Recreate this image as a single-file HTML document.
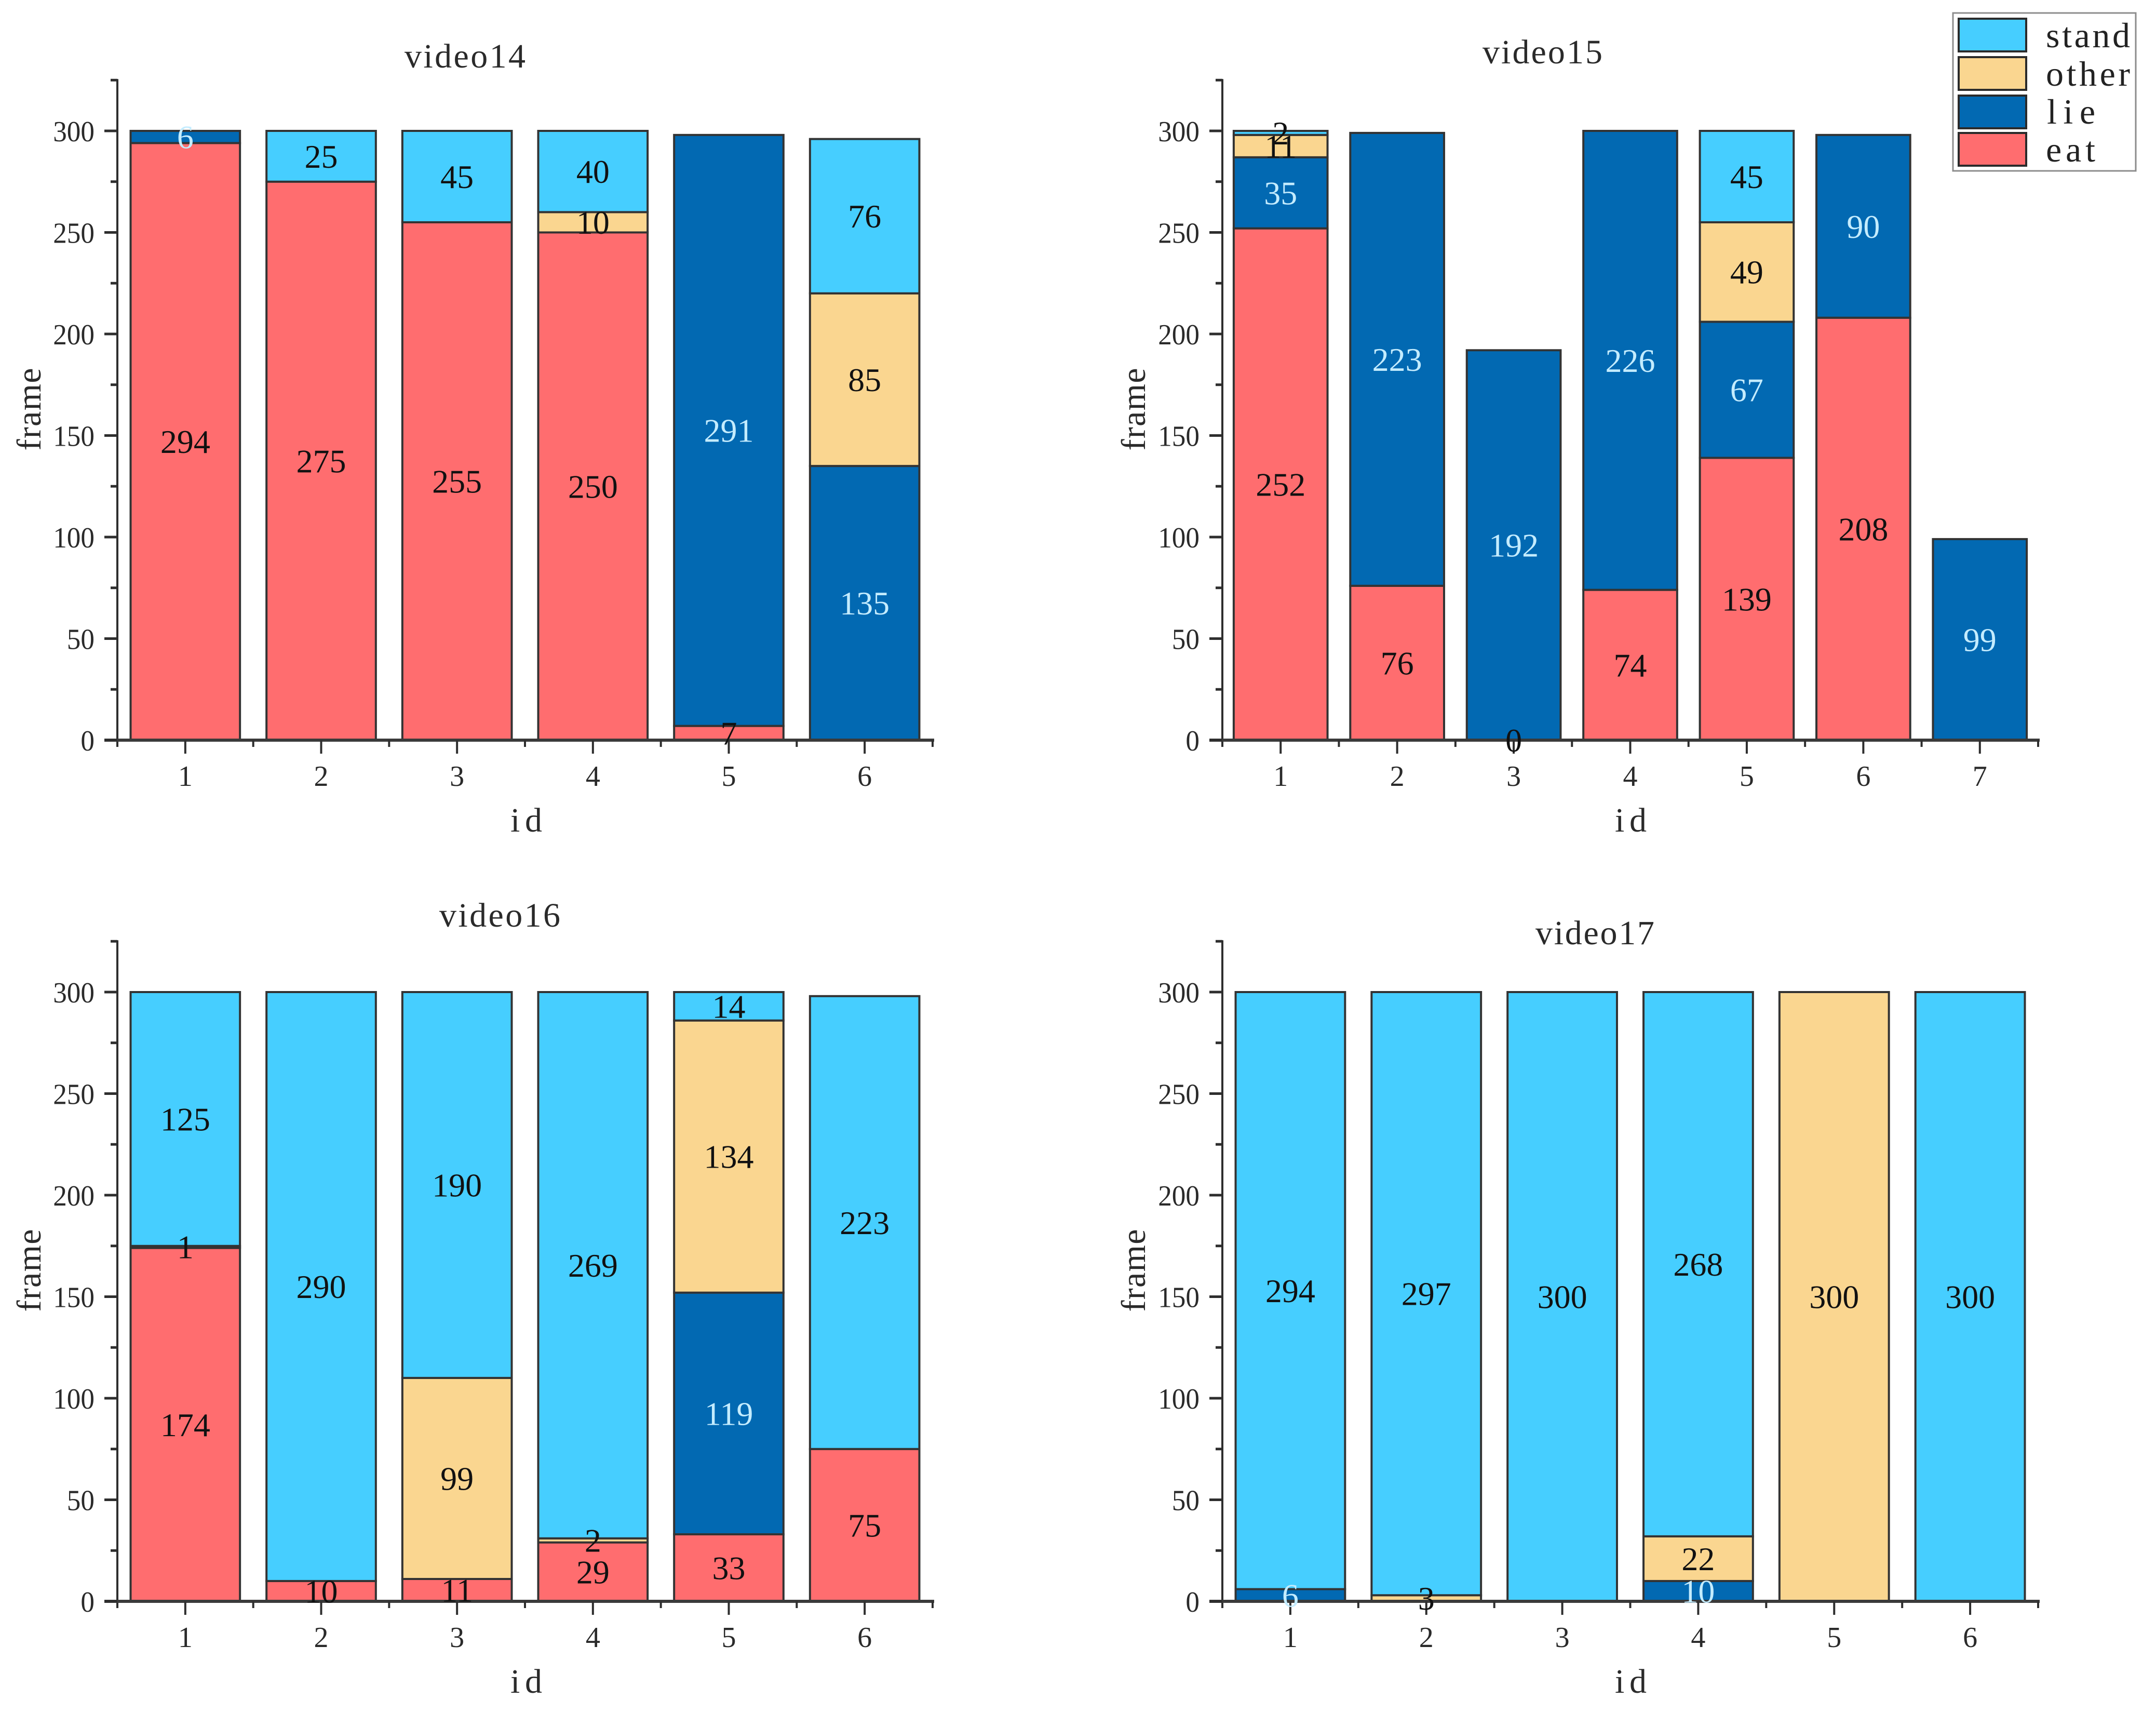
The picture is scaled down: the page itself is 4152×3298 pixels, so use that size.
<!DOCTYPE html>
<html lang="en">
<head>
<meta charset="utf-8">
<title>Stacked frame counts per id</title>
<style>
html,body{margin:0;padding:0;background:#fff;}
svg{display:block;}
text{font-family:"Liberation Serif","Noto Serif CJK SC",serif;}
</style>
</head>
<body>
<svg id="root" xmlns="http://www.w3.org/2000/svg" width="4152" height="3298" viewBox="0 0 4152 3298">
  <rect x="0" y="0" width="4152" height="3298" fill="#ffffff"/>
  <g id="charts"></g>
  <g>
    <rect x="3761" y="25" width="352" height="304" fill="#ffffff" stroke="#8c8c8c" stroke-width="3"/>
    <g>
      <rect x="3772" y="36" width="130" height="63" fill="#46CEFF" stroke="#2b2b2b" stroke-width="4"/>
      <text x="3940" y="91" font-size="68" textLength="162" fill="#222">stand</text>
    </g>
    <g>
      <rect x="3772" y="110" width="130" height="63" fill="#FAD690" stroke="#2b2b2b" stroke-width="4"/>
      <text x="3940" y="165" font-size="68" textLength="162" fill="#222">other</text>
    </g>
    <g>
      <rect x="3772" y="184" width="130" height="63" fill="#0269B2" stroke="#2b2b2b" stroke-width="4"/>
      <text x="3942" y="238" font-size="68" textLength="93" fill="#222">lie</text>
    </g>
    <g>
      <rect x="3772" y="256" width="130" height="63" fill="#FF6D6F" stroke="#2b2b2b" stroke-width="4"/>
      <text x="3940" y="311" font-size="68" textLength="95" fill="#222">eat</text>
    </g>
  </g>
</svg>
<script>
// Value axis ticks shared by all panels
const yMajorTicks = [0, 50, 100, 150, 200, 250, 300];
const yMinorTicks = [25, 75, 125, 175, 225, 275, 325];
const yMax = 325;

// Series order, bottom to top
const seriesNames = ['eat', 'lie', 'other', 'stand'];

// video14
const video14Ids = [1, 2, 3, 4, 5, 6];
const video14Eat = [294, 275, 255, 250, 7, null];
const video14Lie = [6, null, null, null, 291, 135];
const video14Other = [null, null, null, 10, null, 85];
const video14Stand = [null, 25, 45, 40, null, 76];

// video15
const video15Ids = [1, 2, 3, 4, 5, 6, 7];
const video15Eat = [252, 76, 0, 74, 139, 208, null];
const video15Lie = [35, 223, 192, 226, 67, 90, 99];
const video15Other = [11, null, null, null, 49, null, null];
const video15Stand = [2, null, null, null, 45, null, null];

// video16
const video16Ids = [1, 2, 3, 4, 5, 6];
const video16Eat = [174, 10, 11, 29, 33, 75];
const video16Lie = [1, null, null, null, 119, null];
const video16Other = [null, null, 99, 2, 134, null];
const video16Stand = [125, 290, 190, 269, 14, 223];

// video17
const video17Ids = [1, 2, 3, 4, 5, 6];
const video17Eat = [null, null, null, null, null, null];
const video17Lie = [6, null, null, 10, null, null];
const video17Other = [null, 3, null, 22, 300, null];
const video17Stand = [294, 297, 300, 268, null, 300];

const seriesFill = {eat:'#FF6D6F', lie:'#0269B2', other:'#FAD690', stand:'#46CEFF'};
const seriesText = {eat:'#111111', lie:'#c4ecff', other:'#111111', stand:'#111111'};

const panels = [
  {title:'video14', ids:video14Ids, eat:video14Eat, lie:video14Lie, other:video14Other, stand:video14Stand,
   left:226, right:1796, base:1425, titleX:779, titleW:233, titleY:130, xTitleX:983, frameX:78, darkLie:false},
  {title:'video15', ids:video15Ids, eat:video15Eat, lie:video15Lie, other:video15Other, stand:video15Stand,
   left:2354, right:3925, base:1425, titleX:2855, titleW:231, titleY:122, xTitleX:3110, frameX:2205, darkLie:false},
  {title:'video16', ids:video16Ids, eat:video16Eat, lie:video16Lie, other:video16Other, stand:video16Stand,
   left:226, right:1796, base:3083, titleX:846, titleW:233, titleY:1784, xTitleX:983, frameX:78, darkLie:true},
  {title:'video17', ids:video17Ids, eat:video17Eat, lie:video17Lie, other:video17Other, stand:video17Stand,
   left:2354, right:3925, base:3083, titleX:2957, titleW:229, titleY:1818, xTitleX:3110, frameX:2205, darkLie:false}
];

const NS = 'http://www.w3.org/2000/svg';
const unitPx = 3.91;
const axisColor = '#2e2e2e';
const barStroke = '#333333';
const chartsRoot = document.getElementById('charts');

panels.forEach(function (p) {
  const group = document.createElementNS(NS, 'g');
  
  
  chartsRoot.appendChild(group);

  const yScale = function (v) { return p.base - v * unitPx; };
  const step = (p.right - p.left) / p.ids.length;
  const xScale = function (i) { return p.left + step * (i + 0.5); };
  const barW = step * 0.805;

  // stacked bars
  p.ids.forEach(function (id, i) {
    let cum = 0;
    seriesNames.forEach(function (s) {
      const v = p[s][i];
      if (v === null || v === 0) return;
      const r = document.createElementNS(NS, 'rect');
      
      
      r.setAttribute('x', xScale(i) - barW / 2);
      r.setAttribute('y', yScale(cum + v));
      r.setAttribute('width', barW);
      r.setAttribute('height', v * unitPx);
      r.setAttribute('fill', seriesFill[s]);
      r.setAttribute('stroke', barStroke);
      r.setAttribute('stroke-width', '4');
      group.appendChild(r);
      cum += v;
    });
  });

  // y axis line
  const yLine = document.createElementNS(NS, 'line');
  
  
  yLine.setAttribute('x1', p.left);
  yLine.setAttribute('x2', p.left);
  yLine.setAttribute('y1', yScale(yMax) - 2);
  yLine.setAttribute('y2', p.base + 13);
  yLine.setAttribute('stroke', axisColor);
  yLine.setAttribute('stroke-width', '4');
  group.appendChild(yLine);

  // x axis line
  const xLine = document.createElementNS(NS, 'line');
  
  
  xLine.setAttribute('x1', p.left - 25);
  xLine.setAttribute('x2', p.right + 3);
  xLine.setAttribute('y1', p.base);
  xLine.setAttribute('y2', p.base);
  xLine.setAttribute('stroke', '#3a3a3a');
  xLine.setAttribute('stroke-width', '6');
  group.appendChild(xLine);

  // y ticks and labels
  yMajorTicks.forEach(function (v) {
    const t = document.createElementNS(NS, 'line');
    
    
    t.setAttribute('x1', p.left - 25);
    t.setAttribute('x2', p.left);
    t.setAttribute('y1', yScale(v));
    t.setAttribute('y2', yScale(v));
    t.setAttribute('stroke', axisColor);
    t.setAttribute('stroke-width', '5');
    group.appendChild(t);
    const l = document.createElementNS(NS, 'text');
    
    
    const label = String(v);
    l.setAttribute('x', p.left - 44 - label.length * 26.6);
    l.setAttribute('y', yScale(v) + 20);
    l.setAttribute('font-size', '56');
    l.setAttribute('fill', '#2a2a2a');
    l.setAttribute('textLength', label.length * 26.6);
    l.setAttribute('lengthAdjust', 'spacingAndGlyphs');
    l.textContent = label;
    group.appendChild(l);
  });
  yMinorTicks.forEach(function (v) {
    const t = document.createElementNS(NS, 'line');
    
    
    t.setAttribute('x1', p.left - 13);
    t.setAttribute('x2', p.left);
    t.setAttribute('y1', yScale(v));
    t.setAttribute('y2', yScale(v));
    t.setAttribute('stroke', axisColor);
    t.setAttribute('stroke-width', '5');
    group.appendChild(t);
  });

  // x ticks and labels
  p.ids.forEach(function (id, i) {
    const t = document.createElementNS(NS, 'line');
    
    
    t.setAttribute('x1', xScale(i));
    t.setAttribute('x2', xScale(i));
    t.setAttribute('y1', p.base);
    t.setAttribute('y2', p.base + 26);
    t.setAttribute('stroke', axisColor);
    t.setAttribute('stroke-width', '4');
    group.appendChild(t);
    const m = document.createElementNS(NS, 'line');
    
    
    m.setAttribute('x1', xScale(i) + step / 2);
    m.setAttribute('x2', xScale(i) + step / 2);
    m.setAttribute('y1', p.base);
    m.setAttribute('y2', p.base + 13);
    m.setAttribute('stroke', axisColor);
    m.setAttribute('stroke-width', '4');
    group.appendChild(m);
    const l = document.createElementNS(NS, 'text');
    
    
    l.setAttribute('x', xScale(i));
    l.setAttribute('y', p.base + 88);
    l.setAttribute('font-size', '56');
    l.setAttribute('text-anchor', 'middle');
    l.setAttribute('fill', '#2a2a2a');
    l.textContent = String(id);
    group.appendChild(l);
  });

  // value labels, centred in their segments
  p.ids.forEach(function (id, i) {
    let cum = 0;
    seriesNames.forEach(function (s) {
      const v = p[s][i];
      if (v === null) return;
      const l = document.createElementNS(NS, 'text');
      
      
      l.setAttribute('x', xScale(i));
      l.setAttribute('y', yScale(cum + v / 2) + 22);
      l.setAttribute('font-size', '64');
      l.setAttribute('text-anchor', 'middle');
      l.setAttribute('fill', (s === 'lie' && p.darkLie && v < 10) ? '#111111' : seriesText[s]);
      l.textContent = String(v);
      group.appendChild(l);
      cum += v;
    });
  });

  // panel title
  const title = document.createElementNS(NS, 'text');
  
  
  title.setAttribute('x', p.titleX);
  title.setAttribute('y', p.titleY);
  title.setAttribute('font-size', '66');
  title.setAttribute('textLength', p.titleW);
  title.setAttribute('fill', '#2a2a2a');
  title.textContent = p.title;
  group.appendChild(title);

  // x axis title
  const xTitle = document.createElementNS(NS, 'text');
  
  
  xTitle.setAttribute('x', p.xTitleX);
  xTitle.setAttribute('y', p.base + 176);
  xTitle.setAttribute('font-size', '66');
  xTitle.setAttribute('textLength', '61');
  xTitle.setAttribute('fill', '#2a2a2a');
  xTitle.textContent = 'id';
  group.appendChild(xTitle);

  // y axis title
  const yTitle = document.createElementNS(NS, 'text');
  
  
  const cy = p.base - 637;
  yTitle.setAttribute('transform', 'translate(' + p.frameX + ' ' + cy + ') rotate(-90)');
  yTitle.setAttribute('x', 0);
  yTitle.setAttribute('y', 0);
  yTitle.setAttribute('font-size', '66');
  yTitle.setAttribute('text-anchor', 'middle');
  yTitle.setAttribute('textLength', '159');
  yTitle.setAttribute('fill', '#2a2a2a');
  yTitle.textContent = 'frame';
  group.appendChild(yTitle);
});
</script>
</body>
</html>
